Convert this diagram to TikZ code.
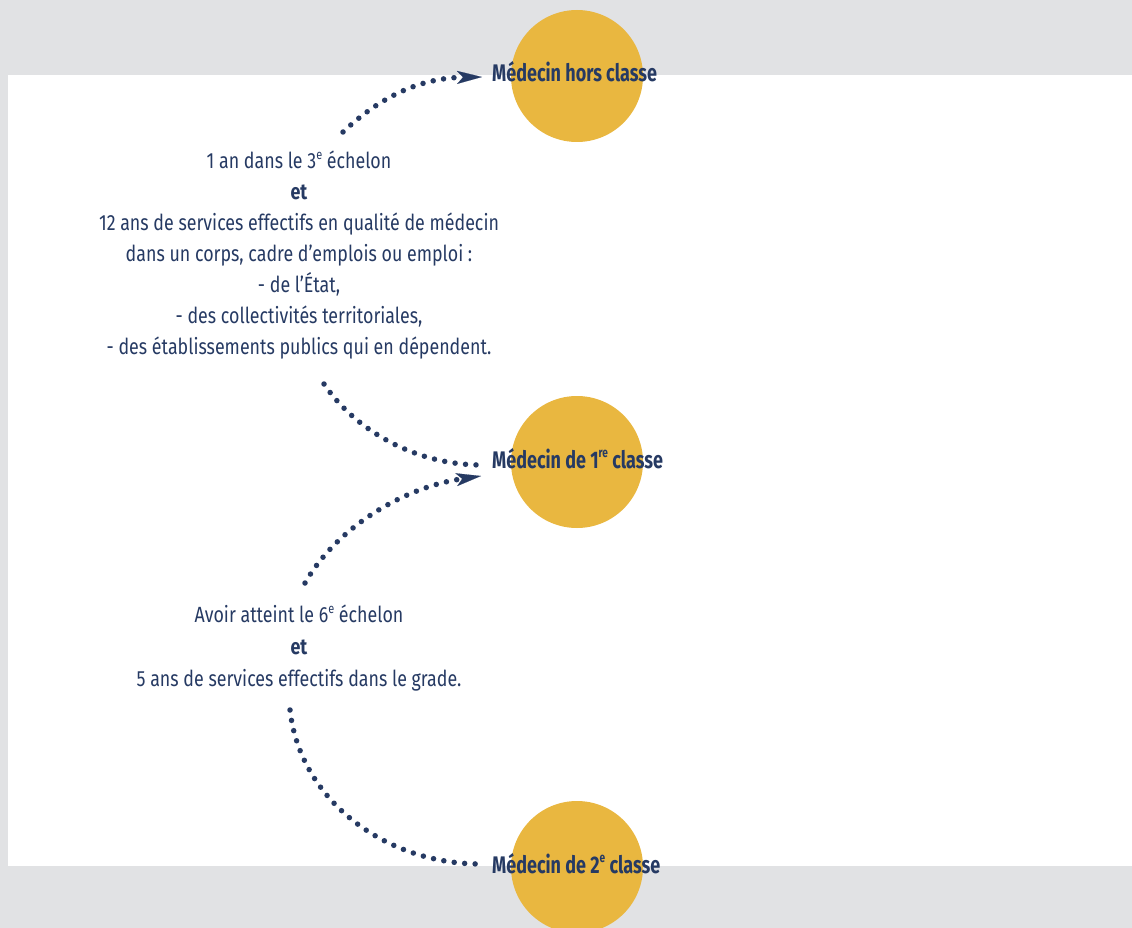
\documentclass[tikz,border=0pt]{standalone}
\usepackage{fontspec}
\setmainfont{Fira Sans}[FakeStretch=0.75]
\newfontfamily\bodyfont{Fira Sans}[FakeStretch=0.81]
\usetikzlibrary{arrows.meta}
\definecolor{navy}{HTML}{263A63}
\definecolor{gold}{HTML}{E9B740}
\definecolor{bggray}{HTML}{E1E2E4}
\newcommand\supr[1]{\raisebox{0.42em}{\fontsize{13.5}{14}\selectfont #1}}
\tikzset{
  circ/.style={circle, fill=gold, minimum size=132pt, inner sep=0pt},
  lab/.style={font=\bfseries\fontsize{24}{28}\selectfont, text=navy, inner sep=0pt, anchor=base west},
  body/.style={font=\bodyfont\fontsize{22}{31}\selectfont, text=navy, inner sep=0pt, align=center},
  dotline/.style={draw=navy, line width=5.5pt, line cap=round, dash pattern=on 0pt off 10.5pt},
  tip/.style={-{Stealth[length=25pt, width=13pt, inset=6pt, line width=0.1pt]}}
}
\begin{document}
\begin{tikzpicture}[x=1pt,y=-1pt]
\useasboundingbox (0,0) rectangle (1132,928);
\clip (0,0) rectangle (1132,928);
\fill[bggray] (0,0) rectangle (1132,928);
\fill[white] (8,75) rectangle (1132,866);

\node[circ] (c1) at (577,76) {};
\node[circ] (c2) at (577,462) {};
\node[circ] (c3) at (577,867) {};

\node[lab] (l1) at (492,82) {Médecin hors classe};
\node[lab] (l2) at (492,468) {Médecin de 1\supr{\bfseries re} classe};
\node[lab] (l3) at (492,873) {Médecin de 2\supr{\bfseries e} classe};

\node[body] (t1) at (299,255) {1 an dans le 3\supr{e} échelon\\
\textbf{et}\\
12 ans de services effectifs en qualité de médecin\\
dans un corps, cadre d’emplois ou emploi :\\
- de l’État,\\
- des collectivités territoriales,\\
- des établissements publics qui en dépendent.};

\node[body, font=\bodyfont\fontsize{22}{32}\selectfont] (t2) at (299,648) {Avoir atteint le 6\supr{e} échelon\\
\textbf{et}\\
5 ans de services effectifs dans le grade.};

\coordinate (s1) at (343,132);
\coordinate (s2) at (324,384);
\coordinate (s3) at (305,583);
\coordinate (s4) at (290,710);

\draw[dotline, tip] (s1) .. controls (380,97) and (420,78) .. ([shift={(-10,-5)}]l1.base west);
\draw[dotline] (s2) .. controls (355,430) and (415,465) .. ([shift={(-10,-3)}]l2.base west);
\draw[dotline, tip] (s3) .. controls (335,530) and (400,488) .. ([shift={(-11,8)}]l2.base west);
\draw[dotline] (s4) .. controls (300,800) and (385,864) .. ([shift={(-11,-9)}]l3.base west);
\end{tikzpicture}
\end{document}
